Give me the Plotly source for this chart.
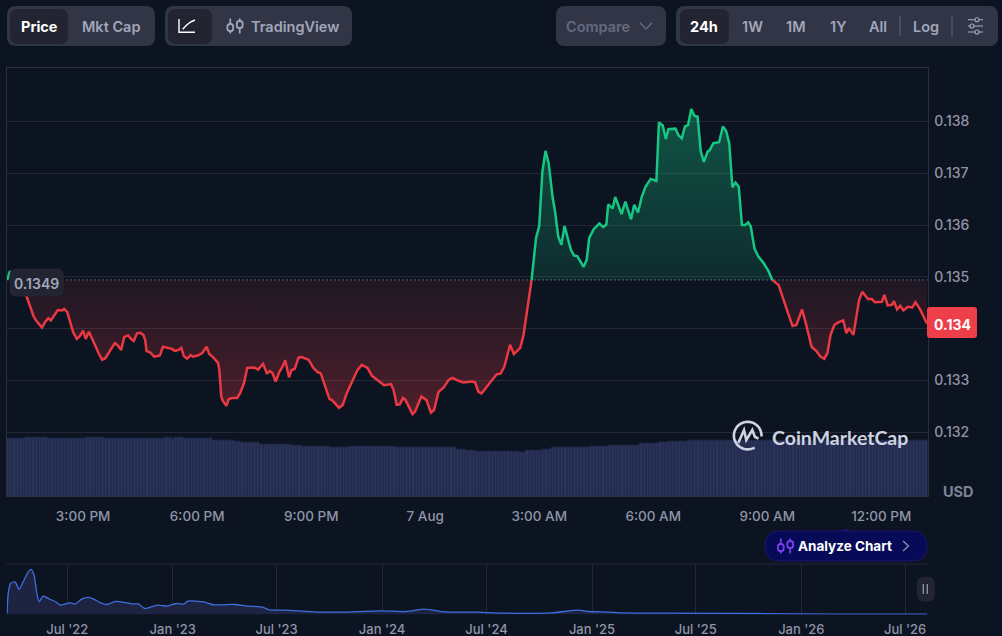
import math
import numpy as np
import pandas as pd
import plotly.graph_objects as go

BG = '#0d1421'
GRID = '#242836'
PILL = '#323546'
PILL_ON = '#222531'
MUTED = '#a1a7bb'
GREEN = '#16c784'
RED = '#ea3943'
NAVY = '#070b57'
FONT = 'Inter'

session_start = pd.Timestamp('2026-08-06 12:59')
session_end = session_start + pd.Timedelta(minutes=1454)
open_price = 0.13494

# minutes since session_start / USD
elapsed_min = [
    1, 5.5, 10, 18, 28, 32, 37, 43, 47, 51, 56, 61, 66, 70, 77, 81, 88, 91, 96, 100,
    105, 111, 116, 121, 125, 130, 135, 141, 146, 151, 156, 162, 171, 176, 181, 186, 192, 197, 201, 206,
    211, 216, 219, 221, 227, 233, 239, 242, 247, 255, 261, 266, 272, 276, 280, 285, 291, 294, 302, 309,
    316, 320, 326, 334, 336, 339, 341, 347, 351, 356, 364, 369, 375, 380, 384, 391, 397, 405, 411, 416,
    420, 425, 431, 436, 440, 446, 450, 455, 461, 466, 477, 484, 491, 496, 510, 514, 525, 531, 537, 547,
    554, 561, 570, 577, 585, 596, 607, 611, 616, 621, 626, 630, 641, 645, 655, 663, 670, 675, 682, 690,
    698, 704, 712, 721, 735, 740, 745, 750, 766, 774, 780, 786, 795, 801, 811, 816, 829, 836, 841, 846,
    851, 856, 862, 866, 871, 876, 881, 891, 896, 901, 911, 916, 920, 927, 936, 942, 947, 950, 957, 961,
    971, 977, 986, 991, 997, 1003, 1009, 1017, 1026, 1030, 1036, 1041, 1045, 1056, 1061, 1066, 1071, 1076, 1081, 1086,
    1091, 1096, 1101, 1107, 1110, 1116, 1125, 1131, 1136, 1141, 1146, 1151, 1156, 1161, 1166, 1171, 1175, 1181, 1187, 1195,
    1203, 1209, 1219, 1233, 1241, 1247, 1256, 1262, 1268, 1271, 1279, 1285, 1291, 1296, 1301, 1307, 1313, 1321, 1326, 1330,
    1337, 1340, 1346, 1351, 1360, 1366, 1371, 1382, 1386, 1391, 1398, 1401, 1406, 1411, 1416, 1423, 1430, 1435, 1442, 1453,
]
price = [
    0.13494, 0.13511, 0.13498, 0.13486, 0.13475, 0.13461, 0.13440, 0.13423, 0.13415, 0.13410, 0.13402, 0.13413, 0.13420, 0.13416, 0.13428, 0.13436, 0.13435, 0.13438, 0.13432, 0.13417,
    0.13394, 0.13380, 0.13386, 0.13396, 0.13380, 0.13394, 0.13382, 0.13365, 0.13351, 0.13340, 0.13343, 0.13355, 0.13372, 0.13367, 0.13359, 0.13384, 0.13387, 0.13380, 0.13376, 0.13391,
    0.13392, 0.13388, 0.13378, 0.13357, 0.13354, 0.13346, 0.13348, 0.13348, 0.13365, 0.13362, 0.13361, 0.13357, 0.13359, 0.13363, 0.13347, 0.13342, 0.13349, 0.13346, 0.13348, 0.13353,
    0.13365, 0.13351, 0.13345, 0.13334, 0.13320, 0.13270, 0.13262, 0.13251, 0.13264, 0.13266, 0.13266, 0.13276, 0.13295, 0.13324, 0.13324, 0.13325, 0.13321, 0.13332, 0.13314, 0.13318,
    0.13314, 0.13298, 0.13317, 0.13327, 0.13339, 0.13306, 0.13320, 0.13322, 0.13344, 0.13345, 0.13340, 0.13325, 0.13316, 0.13314, 0.13264, 0.13262, 0.13247, 0.13253, 0.13275, 0.13301,
    0.13320, 0.13330, 0.13324, 0.13309, 0.13301, 0.13291, 0.13293, 0.13282, 0.13253, 0.13254, 0.13266, 0.13262, 0.13235, 0.13240, 0.13269, 0.13262, 0.13238, 0.13243, 0.13278, 0.13286,
    0.13301, 0.13305, 0.13300, 0.13296, 0.13298, 0.13296, 0.13278, 0.13275, 0.13300, 0.13312, 0.13313, 0.13327, 0.13369, 0.13351, 0.13363, 0.13386, 0.13494, 0.13575, 0.13598, 0.13703,
    0.13743, 0.13719, 0.13655, 0.13626, 0.13578, 0.13562, 0.13598, 0.13552, 0.13541, 0.13540, 0.13519, 0.13533, 0.13575, 0.13592, 0.13603, 0.13596, 0.13601, 0.13640, 0.13632, 0.13654,
    0.13621, 0.13645, 0.13611, 0.13639, 0.13624, 0.13655, 0.13674, 0.13689, 0.13685, 0.13798, 0.13792, 0.13766, 0.13785, 0.13786, 0.13773, 0.13767, 0.13790, 0.13793, 0.13824, 0.13811,
    0.13809, 0.13742, 0.13722, 0.13742, 0.13744, 0.13758, 0.13760, 0.13790, 0.13782, 0.13758, 0.13673, 0.13682, 0.13674, 0.13600, 0.13600, 0.13605, 0.13597, 0.13554, 0.13539, 0.13527,
    0.13511, 0.13494, 0.13484, 0.13433, 0.13405, 0.13407, 0.13437, 0.13410, 0.13377, 0.13365, 0.13356, 0.13346, 0.13342, 0.13353, 0.13388, 0.13407, 0.13412, 0.13416, 0.13391, 0.13401,
    0.13388, 0.13410, 0.13455, 0.13471, 0.13457, 0.13457, 0.13451, 0.13452, 0.13465, 0.13445, 0.13446, 0.13453, 0.13437, 0.13444, 0.13435, 0.13442, 0.13441, 0.13451, 0.13438, 0.13410,
]

# volume in USD billions, as runs of 5 minute bars
volume_levels = [
    5.71, 5.87, 5.71, 5.87, 5.71, 5.87, 5.71, 5.87, 5.73, 5.60, 5.47, 5.33, 5.20, 5.10, 5.00, 4.87,
    5.00, 4.97, 4.83, 4.70, 4.53, 4.47, 4.37, 4.53, 4.70, 4.83, 4.97, 5.10, 5.23, 5.37, 5.47, 5.60,
]
volume_runs = [
    6, 7, 12, 6, 19, 2, 1, 3, 9, 7, 2, 6, 10, 3, 9, 6,
    9, 6, 19, 3, 3, 14, 2, 5, 3, 12, 6, 10, 6, 3, 6, 77,
]

# overview chart: days since overview_start / USD
overview_start = pd.Timestamp('2022-03-17')
overview_end = pd.Timestamp('2026-08-09')
overview_days = [
    1, 3, 7, 15, 22, 29, 38, 43, 48, 53, 57, 64, 76, 85, 94, 102, 111, 120, 131, 143,
    152, 163, 175, 190, 210, 222, 230, 241, 263, 280, 297, 309, 316, 344, 362, 397, 420, 446, 458, 484,
    542, 583, 653, 697, 729, 764, 822, 863, 950, 997, 1014, 1049, 1073, 1154, 1311, 1445, 1606,
]
overview_price = [
    0.05, 1.05, 1.55, 1.63, 1.25, 1.63, 2.13, 2.25, 1.97, 1.05, 0.63, 0.92, 0.75, 0.65, 0.47, 0.52, 0.58, 0.52, 0.77, 0.85,
    0.77, 0.60, 0.50, 0.65, 0.58, 0.52, 0.53, 0.30, 0.47, 0.42, 0.55, 0.52, 0.67, 0.63, 0.48, 0.50, 0.42, 0.37, 0.23, 0.22,
    0.12, 0.12, 0.18, 0.15, 0.27, 0.13, 0.12, 0.07, 0.08, 0.22, 0.15, 0.12, 0.08, 0.07, 0.05, 0.02, 0.02,
]

price_ticks = [0.132, 0.133, 0.134, 0.135, 0.136, 0.137, 0.138]
# 0.134 sits under the red last price badge
price_labels = ['0.132', '0.133', '', '0.135', '0.136', '0.137', '0.138']
time_ticks = ['2026-08-06 15:00', '2026-08-06 18:00', '2026-08-06 21:00', '2026-08-07 00:00',
              '2026-08-07 03:00', '2026-08-07 06:00', '2026-08-07 09:00', '2026-08-07 12:00']
time_labels = ['3:00 PM', '6:00 PM', '9:00 PM', '7 Aug', '3:00 AM', '6:00 AM', '9:00 AM', '12:00 PM']
overview_ticks = ['2022-07-01', '2023-01-01', '2023-07-01', '2024-01-01', '2024-07-01',
                  '2025-01-01', '2025-07-01', '2026-01-01', '2026-07-01']
overview_labels = ["Jul '22", "Jan '23", "Jul '23", "Jan '24", "Jul '24", "Jan '25", "Jul '25", "Jan '26", "Jul '26"]


def to_time(mins):
    return session_start + pd.to_timedelta(np.array(mins, dtype=float), unit='m')


# add a point wherever the line crosses the open price, so colours change on it
split_min, split_price = [elapsed_min[0]], [price[0]]
for i in range(1, len(price)):
    a, b = price[i - 1] - open_price, price[i] - open_price
    if a * b < 0:
        split_min.append(elapsed_min[i - 1] + (elapsed_min[i] - elapsed_min[i - 1]) * a / (a - b))
        split_price.append(open_price)
    split_min.append(elapsed_min[i])
    split_price.append(price[i])

t = to_time(split_min)
base = [open_price] * len(t)
above = [max(p, open_price) for p in split_price]
below = [min(p, open_price) for p in split_price]
green_line = [p if p >= open_price else None for p in split_price]
red_line = [p if p <= open_price else None for p in split_price]

volume = np.repeat(volume_levels, volume_runs)
bar_t = to_time(np.arange(len(volume)) * 5 + 2.5)

fig = go.Figure()

# volume
fig.add_trace(go.Bar(x=bar_t, y=volume, xaxis='x', yaxis='y2', width=5 * 60000,
                     marker=dict(color='#2a3459', line=dict(color='#212a4a', width=0.7))))

# fills either side of the open price
fig.add_trace(go.Scatter(x=t, y=base, mode='lines', line=dict(width=0), hoverinfo='skip'))
fig.add_trace(go.Scatter(x=t, y=above, mode='lines', line=dict(width=0), fill='tonexty', hoverinfo='skip',
                         fillgradient=dict(type='vertical', start=open_price, stop=0.1382,
                                           colorscale=[[0, 'rgba(22,199,132,0.13)'], [1, 'rgba(22,199,132,0.36)']])))
fig.add_trace(go.Scatter(x=t, y=base, mode='lines', line=dict(width=0), hoverinfo='skip'))
fig.add_trace(go.Scatter(x=t, y=below, mode='lines', line=dict(width=0), fill='tonexty', hoverinfo='skip',
                         fillgradient=dict(type='vertical', start=open_price, stop=0.1323,
                                           colorscale=[[0, 'rgba(234,57,67,0.08)'], [1, 'rgba(234,57,67,0.30)']])))

fig.add_trace(go.Scatter(x=t, y=red_line, mode='lines', line=dict(color=RED, width=2.5)))
fig.add_trace(go.Scatter(x=t, y=green_line, mode='lines', line=dict(color=GREEN, width=2.5)))
fig.add_trace(go.Scatter(x=[session_start, session_end], y=[open_price, open_price], mode='lines',
                         line=dict(color='#9aa0b0', width=1, dash='1px,3px')))

# overview
fig.add_trace(go.Scatter(x=overview_start + pd.to_timedelta(overview_days, unit='D'), y=overview_price,
                         xaxis='x3', yaxis='y3', mode='lines', fill='tozeroy', fillcolor='#1d2340',
                         line=dict(color='#3e6ee0', width=1.3, shape='spline', smoothing=0.6)))

# pixel canvas for the toolbar and badges
fig.add_trace(go.Scatter(x=[None], y=[None], xaxis='x4', yaxis='y4'))

shapes = []
notes = []


def stroke(path, color, width=1.5, fill=None):
    shapes.append(dict(type='path', path=path, xref='x4', yref='y4', layer='above',
                       line=dict(color=color, width=width), fillcolor=fill))


def box(x0, y0, x1, y1, r, fill, line=None, width=1):
    path = (f'M{x0 + r},{y0} L{x1 - r},{y0} Q{x1},{y0} {x1},{y0 + r} L{x1},{y1 - r} Q{x1},{y1} {x1 - r},{y1} '
            f'L{x0 + r},{y1} Q{x0},{y1} {x0},{y1 - r} L{x0},{y0 + r} Q{x0},{y0} {x0 + r},{y0} Z')
    shapes.append(dict(type='path', path=path, xref='x4', yref='y4', layer='above', fillcolor=fill,
                       line=dict(color=line or fill, width=width if line else 0)))


def text(x, y, s, size=14, color=MUTED, weight=600, family=FONT):
    notes.append(dict(x=x, y=y, xref='x4', yref='y4', text=s, showarrow=False, xanchor='center', yanchor='middle',
                      font=dict(family=family, size=size, color=color, weight=weight)))


def candles(x, y, color, fill):
    for cx, b0, b1 in [(x - 4.7, y - 2, y + 5), (x + 4.7, y - 5, y + 2)]:
        stroke(f'M{cx},{y - 7.5} L{cx},{b0} M{cx},{b1} L{cx},{y + 7.5}', color, 1.7)
        box(cx - 2.9, b0, cx + 2.9, b1, 2.6, fill, color, 1.8)


# toolbar
box(7, 6, 155, 46, 9, PILL)
box(10, 9, 68, 44, 8, PILL_ON)
text(39, 26, 'Price', 14.5, '#ffffff', 700)
text(111, 26, 'Mkt Cap', 14.5)
box(165, 6, 352, 46, 9, PILL)
box(168, 9, 212, 44, 8, PILL_ON)
stroke('M179,19 L179,32.3 L195,32.3', '#ffffff', 1.4)
stroke('M182.7,29.3 L186.7,25 Q190,21.5 195,20', '#ffffff', 1.4)
candles(235, 26, MUTED, PILL)
text(295, 26, 'TradingView', 14.5)
box(556, 6, 666, 46, 9, PILL)
text(598, 26, 'Compare', 14.5, '#646b80')
stroke('M640,22.7 L646,29 L652,22.7', '#646b80', 1.3)
box(676, 6, 998, 46, 9, PILL)
box(680, 9, 729, 44, 8, PILL_ON)
text(703.7, 26, '24h', 14.5, '#ffffff', 700)
text(752, 26, '1W', 14.5)
text(795.5, 26, '1M', 14.5)
text(837.5, 26, '1Y', 14.5)
text(878, 26, 'All', 14.5)
text(926, 26, 'Log', 14.5)
stroke('M900,16 L900,36', '#585d70', 1.2)
stroke('M952,16 L952,36', '#585d70', 1.2)
for ly, cx in [(19.7, 977), (26, 972), (32, 977)]:
    stroke(f'M968,{ly} L983,{ly}', MUTED, 1.1)
    shapes.append(dict(type='circle', xref='x4', yref='y4', layer='above', x0=cx - 2, x1=cx + 2, y0=ly - 2, y1=ly + 2,
                       fillcolor=PILL, line=dict(color=MUTED, width=1.1)))

# price badges
box(9.5, 268.5, 64, 296.5, 7, PILL_ON)
text(36.8, 283, '0.1349', 14, MUTED)
box(927, 307, 977, 338, 3, '#ee3e4a')
text(952, 324, '0.134', 14, '#ffffff', 700)
text(958, 491, 'USD', 14.5, '#7e8497', 700)

# watermark
cx, cy, r = 747.7, 435.6, 13.8
ring = [(cx + r * math.cos(math.radians(a)), cy + r * math.sin(math.radians(a))) for a in range(60, 372, 8)]
stroke('M' + ' L'.join(f'{x:.1f},{y:.1f}' for x, y in ring), '#ced3e0', 2.6)
stroke('M738.3,443 L744,430 L746.3,440 L752.3,430 L755,437 L758.5,438.5', '#ced3e0', 2.6)
text(840, 437, 'CoinMarketCap', 19.5, '#ced3e0', 700, 'Lato')

# analyze pill
box(842.5, 529, 849, 533, 2, '#1d1470')
box(765, 531, 927, 561, 15, NAVY, '#1d1470')
candles(785.5, 546, '#7b3ff2', NAVY)
text(844.5, 546, 'Analyze Chart', 13.5, '#ffffff', 700)
stroke('M903,541 L908.5,546 L903,551', '#8a8fae', 1.3)

# pause handle
box(916.7, 576.7, 935, 601.7, 8, PILL_ON)
stroke('M923.3,584 L923.3,594 M927.3,584 L927.3,594', '#8f95a8', 1.3)

W, H = 1002, 636
fig.update_layout(
    width=W, height=H, autosize=False, margin=dict(l=0, r=0, t=0, b=0, autoexpand=False),
    paper_bgcolor=BG, plot_bgcolor='rgba(0,0,0,0)', showlegend=False, hovermode=False,
    font=dict(family=FONT, size=14, color=MUTED),
    shapes=shapes, annotations=notes,
    xaxis=dict(domain=[6.5 / W, 927.5 / W], anchor='y', type='date', range=[session_start, session_end],
               tickvals=time_ticks, ticktext=time_labels, tickfont=dict(size=13.5, color='#8f95a8', weight=500),
               ticklabelstandoff=8, automargin=False, showgrid=False, zeroline=False,
               showline=True, linecolor='#2b2f3d', linewidth=1, mirror=True),
    yaxis=dict(domain=[1 - 496 / H, 1 - 67.5 / H], anchor='x', side='right', range=[0.13077, 0.13904],
               tickvals=price_ticks, ticktext=price_labels,
               tickfont=dict(size=14, color='#8f95a8', weight=500), ticklabelstandoff=3, automargin=False,
               gridcolor=GRID, gridwidth=1.3, zeroline=False, showline=True, linecolor='#2b2f3d', linewidth=1, mirror=True),
    yaxis2=dict(domain=[1 - 496 / H, 1 - 67.5 / H], overlaying='y', range=[0, 42.85], visible=False),
    xaxis3=dict(domain=[6.5 / W, 927.5 / W], anchor='y3', type='date', range=[overview_start, overview_end],
                tickvals=overview_ticks, ticktext=overview_labels, tickfont=dict(size=13, color='#8f95a8', weight=500),
                ticklabelstandoff=5, automargin=False, showgrid=True, gridcolor=GRID, zeroline=False, showline=False),
    yaxis3=dict(domain=[1 - 614.5 / H, 1 - 564 / H], anchor='x3', range=[0, 2.52], showticklabels=False, ticks='',
                showgrid=False, zeroline=False, showline=False),
    xaxis4=dict(domain=[0, 1], range=[0, W], visible=False, anchor='y4', fixedrange=True),
    yaxis4=dict(domain=[0, 1], range=[H, 0], visible=False, anchor='x4', fixedrange=True),
    bargap=0,
)
fig.add_shape(type='line', xref='x4', yref='y4', x0=6.5, x1=927.5, y0=564, y1=564, line=dict(color=GRID, width=1))

fig.write_html("out.html", config=dict(displayModeBar=False),
               post_script="document.body.style.margin='0';document.body.style.overflow='hidden';")
